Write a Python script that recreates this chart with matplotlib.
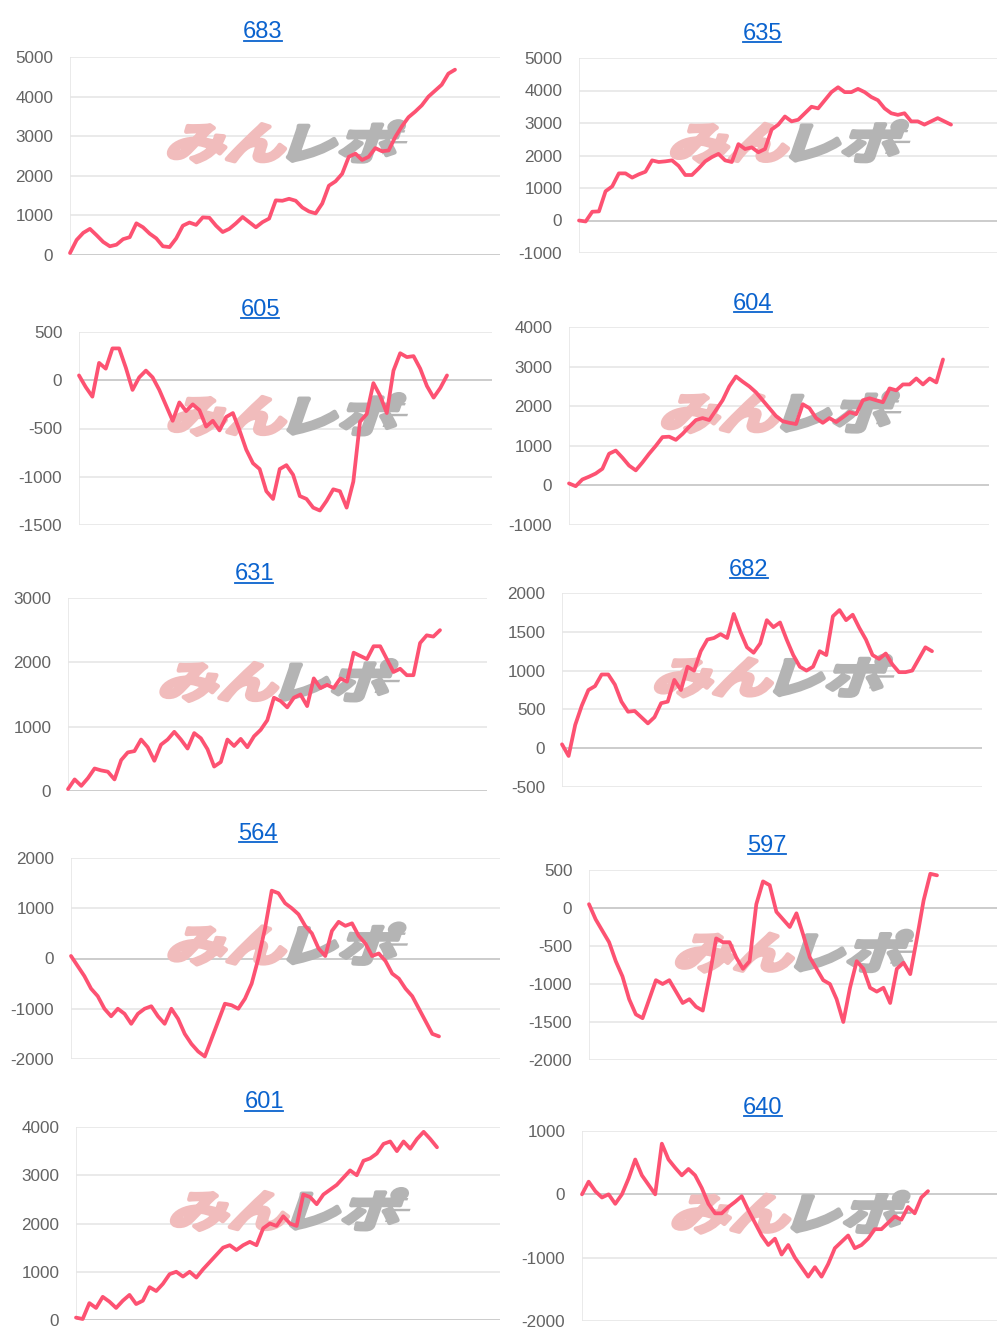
import numpy as np
import matplotlib
matplotlib.use("Agg")
import matplotlib.pyplot as plt
import matplotlib.transforms as mtransforms
from matplotlib.textpath import TextPath
from matplotlib.patches import PathPatch, Rectangle
from matplotlib.font_manager import FontProperties
from matplotlib.lines import Line2D

plt.rcParams['font.family'] = ['Liberation Sans', 'Noto Sans CJK JP', 'DejaVu Sans']

# machine numbers (chart titles)
machines = ["683", "635", "605", "604", "631", "682", "564", "597", "601", "640"]

# cumulative difference per machine
diff_683 = [50, 380, 560, 660, 500, 330, 220, 260, 400, 450, 800, 700, 540, 420, 220,
            200, 420, 740, 820, 760, 950, 940, 740, 580, 660, 800, 960, 830, 700, 830,
            920, 1380, 1370, 1420, 1370, 1200, 1100, 1050, 1300, 1750, 1860, 2050, 2480,
            2560, 2400, 2480, 2700, 2620, 2640, 2980, 3250, 3480, 3620, 3780, 4000, 4150,
            4300, 4580, 4680]
diff_635 = [0, -30, 270, 280, 900, 1050, 1450, 1450, 1320, 1420, 1500, 1850, 1800, 1820,
            1850, 1680, 1400, 1400, 1600, 1820, 1950, 2050, 1850, 1800, 2350, 2200, 2250,
            2100, 2200, 2800, 2950, 3200, 3050, 3100, 3300, 3500, 3450, 3700, 3950, 4100,
            3950, 3950, 4050, 3950, 3800, 3700, 3450, 3300, 3250, 3300, 3050, 3050, 2950,
            3050, 3150, 3050, 2950]
diff_605 = [50, -70, -170, 180, 120, 330, 330, 130, -100, 30, 100, 30, -100, -260, -420,
            -230, -320, -250, -310, -480, -420, -520, -380, -340, -520, -720, -860, -920,
            -1150, -1230, -920, -880, -980, -1200, -1230, -1320, -1350, -1250, -1130, -1150,
            -1320, -1050, -430, -350, -30, -160, -340, 100, 280, 240, 250, 120, -60, -180,
            -80, 50]
diff_604 = [50, -20, 150, 220, 300, 420, 800, 880, 700, 500, 380, 580, 800, 1000, 1220,
            1230, 1150, 1300, 1480, 1650, 1700, 1650, 1900, 2150, 2500, 2750, 2620, 2500,
            2350, 2150, 1950, 1750, 1620, 1580, 1550, 2050, 1950, 1700, 1580, 1700, 1600,
            1720, 1850, 1800, 2150, 2200, 2150, 2100, 2450, 2400, 2550, 2550, 2700, 2550,
            2700, 2600, 3180]
diff_631 = [30, 180, 80, 200, 350, 320, 300, 180, 480, 600, 620, 800, 680, 470, 720, 800,
            920, 800, 660, 900, 820, 650, 380, 450, 800, 700, 810, 680, 850, 950, 1100,
            1450, 1400, 1300, 1450, 1500, 1320, 1750, 1600, 1650, 1600, 1750, 1700, 2150,
            2100, 2050, 2250, 2250, 2050, 1850, 1900, 1800, 1800, 2300, 2420, 2400, 2500]
diff_682 = [50, -100, 300, 550, 750, 800, 950, 950, 820, 600, 470, 480, 400, 320, 400,
            580, 600, 880, 750, 1050, 1000, 1250, 1400, 1420, 1470, 1420, 1730, 1500, 1300,
            1230, 1350, 1650, 1560, 1620, 1400, 1200, 1050, 1000, 1050, 1250, 1200, 1700,
            1780, 1650, 1720, 1550, 1400, 1200, 1150, 1220, 1080, 980, 980, 1000, 1150,
            1300, 1250]
diff_564 = [50, -150, -350, -600, -750, -1000, -1150, -1000, -1100, -1300, -1100, -1000,
            -950, -1150, -1300, -1000, -1200, -1500, -1700, -1850, -1950, -1600, -1250,
            -900, -930, -1000, -800, -500, 0, 600, 1350, 1300, 1100, 1000, 880, 650, 500,
            200, 50, 550, 730, 650, 700, 450, 300, 50, 100, -50, -300, -400, -600, -750,
            -1000, -1250, -1500, -1550]
diff_597 = [50, -150, -300, -450, -700, -900, -1200, -1400, -1450, -1200, -950, -1000,
            -950, -1100, -1250, -1200, -1300, -1350, -900, -400, -450, -450, -650, -800,
            -700, 50, 350, 300, -50, -150, -250, -70, -350, -650, -800, -950, -1000, -1200,
            -1500, -1050, -700, -800, -1050, -1100, -1050, -1250, -800, -720, -870, -400,
            100, 450, 430]
diff_601 = [50, 20, 350, 250, 480, 380, 250, 400, 520, 330, 400, 680, 600, 750, 950, 1000,
            900, 1000, 880, 1050, 1200, 1350, 1500, 1550, 1450, 1550, 1620, 1550, 1900,
            2000, 1950, 2150, 2000, 1950, 2600, 2550, 2400, 2600, 2700, 2800, 2950, 3100,
            3000, 3300, 3350, 3450, 3650, 3700, 3500, 3700, 3550, 3750, 3900, 3750, 3580]
diff_640 = [0, 200, 50, -50, 0, -150, 0, 250, 550, 300, 150, 0, 800, 550, 420, 300, 400,
            300, 100, -150, -300, -300, -200, -120, -30, -250, -450, -650, -800, -700, -950,
            -800, -1000, -1150, -1300, -1150, -1300, -1100, -850, -750, -650, -850, -800,
            -700, -550, -550, -450, -350, -400, -200, -300, -50, 50]

series = [diff_683, diff_635, diff_605, diff_604, diff_631,
          diff_682, diff_564, diff_597, diff_601, diff_640]

# y axis: min, max, step
y_axes = [(0, 5000, 1000), (-1000, 5000, 1000), (-1500, 500, 500), (-1000, 4000, 1000),
          (0, 3000, 1000), (-500, 2000, 500), (-2000, 2000, 1000), (-2000, 500, 500),
          (0, 4000, 1000), (-2000, 1000, 1000)]

# pixel layout: plot left, top, right, bottom, end of data, title x, title y
boxes = [(70, 57, 500, 255, 455, 263, 30), (579, 58, 997, 253, 951, 762, 31),
         (79, 332, 492, 525, 447, 260, 307), (569, 327, 989, 525, 943, 753, 301),
         (68, 598, 487, 791, 440, 254, 572), (562, 593, 982, 787, 932, 749, 567),
         (71, 858, 500, 1059, 439, 258, 831), (589, 870, 997, 1060, 937, 767, 843),
         (76, 1127, 500, 1320, 437, 264, 1100), (582, 1131, 997, 1321, 928, 763, 1105)]

W, H = 1000, 1341
fig = plt.figure(figsize=(W / 100, H / 100), dpi=100)

line_color = "#fd5272"
title_color = "#0b63ce"
grid_color = "#e6e6e6"
base_color = "#c4c4c4"
wm_pink = "#f1bcbc"
wm_gray = "#b4b4b4"

cjk = FontProperties(family="Noto Sans CJK JP", weight="bold")
wm_left = TextPath((0, 0), "みん", size=40, prop=cjk)
wm_right = TextPath((0, 0), "レポ", size=40, prop=cjk)


def watermark(ax):
    ext_l = wm_left.get_extents()
    ext_r = wm_right.get_extents()
    gap = 4
    shift = ext_l.x1 + gap - ext_r.x0
    total_w = ext_l.x1 + gap + ext_r.width - ext_l.x0
    cx = ext_l.x0 + total_w / 2
    cy = (ext_l.y0 + ext_l.y1) / 2
    base = (mtransforms.Affine2D().translate(-cx, -cy).skew_deg(14, 0)
            .scale(1.08 * fig.dpi / 72, 0.78 * fig.dpi / 72)
            + mtransforms.ScaledTranslation(0.5, 0.565, ax.transAxes))
    ax.add_patch(PathPatch(wm_left, transform=base, fc=wm_pink, ec=wm_pink, lw=3.2,
                           joinstyle="round", zorder=1))
    right_t = mtransforms.Affine2D().translate(shift, 0) + base
    ax.add_patch(PathPatch(wm_right, transform=right_t, fc=wm_gray, ec=wm_gray, lw=3.2,
                           joinstyle="round", zorder=1))
    # short speed streaks on the grey letters
    for yy, ww in [(0.72, 10), (0.45, 14), (0.18, 8)]:
        ax.add_patch(Rectangle((ext_r.x1 - 8, ext_r.y0 + yy * ext_r.height), ww, 2.2,
                               transform=right_t, fc=wm_gray, ec="none", zorder=1))


titles = []
for i, name in enumerate(machines):
    left, top, right, bottom, x_end, tx, ty = boxes[i]
    ax = fig.add_axes([left / W, 1 - bottom / H, (right - left) / W, (bottom - top) / H])
    vals = series[i]
    xs = np.arange(len(vals))
    lo, hi, step = y_axes[i]
    ticks = np.arange(lo, hi + 1, step)

    for t in ticks:
        ax.axhline(t, color=base_color if t == 0 else grid_color, lw=1.2, zorder=0)
    ax.axvline(0, color=grid_color, lw=1.2, zorder=0)

    watermark(ax)
    ax.plot(xs, vals, color=line_color, lw=2.7, solid_joinstyle="round",
            solid_capstyle="round", zorder=3, clip_on=False)

    ax.set_ylim(lo, hi)
    ax.set_xlim(0, (len(vals) - 1) * (right - left) / (x_end - left))
    ax.set_xticks([])
    ax.set_yticks(ticks)
    ax.set_yticklabels([str(t) for t in ticks])
    ax.tick_params(axis="y", length=0, pad=12, labelsize=12.3, labelcolor="#636363")
    for s in ax.spines.values():
        s.set_visible(False)
    ax.patch.set_alpha(0)

    titles.append(fig.text(tx / W, 1 - (ty + 8.5) / H, name, ha="center", va="baseline",
                           fontsize=17, color=title_color))

# underline the titles like links
fig.canvas.draw()
renderer = fig.canvas.get_renderer()
for t in titles:
    bb = t.get_window_extent(renderer)
    y = t.get_position()[1] * H - 2.5
    fig.add_artist(Line2D([bb.x0 / W + 0.001, bb.x1 / W - 0.001], [y / H, y / H],
                          color=title_color, lw=1.3, transform=fig.transFigure))

fig.savefig("out.png", dpi=100, facecolor="white")
